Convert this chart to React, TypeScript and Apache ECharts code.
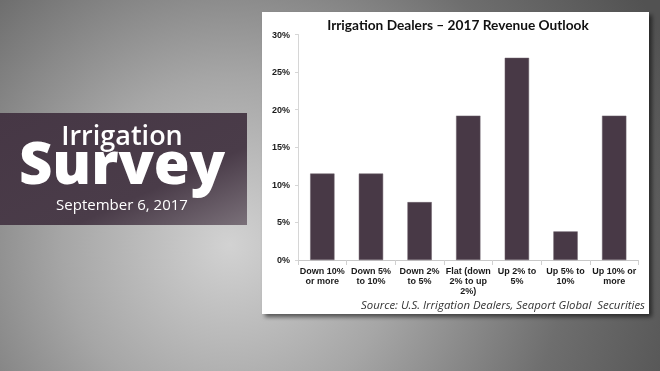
import React, { useEffect, useRef } from 'react';
import * as echarts from 'echarts';

const categories = [
  'Down 10%\nor more',
  'Down 5%\nto 10%',
  'Down 2%\nto 5%',
  'Flat (down\n2% to up\n2%)',
  'Up 2% to\n5%',
  'Up 5% to\n10%',
  'Up 10% or\nmore',
];
const shares = [11.5, 11.5, 7.7, 19.2, 26.9, 3.8, 19.2];
const yMin = 0;
const yMax = 30;
const yStep = 5;
const chartTitle = 'Irrigation Dealers \u2013 2017 Revenue Outlook';
const sourceNote = 'Source: U.S. Irrigation Dealers, Seaport Global  Securities';
const bannerTop = 'Irrigation';
const bannerMain = 'Survey';
const bannerDate = 'September 6, 2017';

export default function App() {
  const ref = useRef<HTMLDivElement>(null);
  useEffect(() => {
    if (!ref.current) return;
    const chart = echarts.init(ref.current, null, { renderer: 'svg' });
    const barColor = '#483946';
    chart.setOption({
      animation: false,
      graphic: [
        {
          type: 'rect',
          z: -10,
          shape: { x: 0, y: 0, width: 660, height: 371 },
          style: {
            fill: new echarts.graphic.RadialGradient(230, 245, 480, [
              { offset: 0, color: '#d2d2d2' },
              { offset: 0.35, color: '#a6a6a6' },
              { offset: 0.7, color: '#6e6e6e' },
              { offset: 1, color: '#525252' },
            ], true),
          },
        },
        {
          type: 'rect',
          z: -9,
          shape: { x: 0, y: 113, width: 247, height: 112 },
          style: {
            fill: new echarts.graphic.LinearGradient(0, 0, 1, 1, [
              { offset: 0, color: '#463745' },
              { offset: 0.65, color: '#4a3c49' },
              { offset: 1, color: '#7a7079' },
            ]),
          },
        },
        {
          type: 'text',
          z: -8,
          style: {
            x: 122,
            y: 124,
            align: 'center',
            verticalAlign: 'top',
            text: `{a|${bannerTop}}\n{b|${bannerMain}}\n{c|${bannerDate}}`,
            fill: '#ffffff',
            fontFamily: 'Open Sans',
            rich: {
              a: { fontSize: 27, lineHeight: 20, fontWeight: 600, fill: '#ffffff', fontFamily: 'Open Sans' },
              b: { fontSize: 58, lineHeight: 34, fontWeight: 800, fill: '#ffffff', fontFamily: 'Open Sans' },
              c: { fontSize: 15, lineHeight: 52, fontWeight: 400, fill: '#ffffff', fontFamily: 'Open Sans' },
            },
          },
        },
        {
          type: 'rect',
          z: -7,
          shape: { x: 262, y: 12, width: 387, height: 302 },
          style: {
            fill: '#ffffff',
            shadowBlur: 4,
            shadowOffsetX: 3,
            shadowOffsetY: 3,
            shadowColor: 'rgba(0,0,0,0.55)',
          },
        },
        {
          type: 'text',
          z: -6,
          style: {
            x: 458, y: 24, text: chartTitle, align: 'center', verticalAlign: 'middle',
            fill: '#111111', fontSize: 13.7, fontWeight: 700, fontFamily: 'Lato',
          },
        },
        {
          type: 'text',
          z: -6,
          style: {
            x: 645, y: 304, text: sourceNote, align: 'right', verticalAlign: 'middle',
            fill: '#333333', fontSize: 11.4, lineHeight: 11, fontStyle: 'italic', fontFamily: 'Open Sans',
          },
        },
      ],
      grid: { left: 298, right: 21.5, top: 34.5, bottom: 111, containLabel: false },
      xAxis: {
        type: 'category',
        data: categories,
        axisLine: { lineStyle: { color: '#c8c8c8', width: 1 } },
        axisTick: { show: true, length: 5, lineStyle: { color: '#d0d0d0' } },
        axisLabel: {
          interval: 0,
          margin: 5.5,
          color: '#1a1a1a',
          fontSize: 9,
          fontWeight: 700,
          lineHeight: 10.2,
          fontFamily: 'Liberation Sans',
        },
      },
      yAxis: {
        type: 'value',
        min: yMin,
        max: yMax,
        interval: yStep,
        axisLine: { show: true, lineStyle: { color: '#d6d6d6' } },
        axisTick: { show: true, length: 3, lineStyle: { color: '#d6d6d6' } },
        splitLine: { show: false },
        axisLabel: {
          formatter: '{value}%',
          margin: 8,
          color: '#1a1a1a',
          fontSize: 9,
          fontWeight: 700,
          fontFamily: 'Liberation Sans',
        },
      },
      series: [
        {
          type: 'bar',
          data: shares,
          barWidth: '50%',
          itemStyle: { color: barColor, borderColor: '#6a5e68', borderWidth: 0.5 },
        },
      ],
    });
    return () => chart.dispose();
  }, []);
  return (
    <div
      ref={ref}
      style={{ position: 'fixed', left: 0, top: 0, width: 660, height: 371 }}
    />
  );
}
